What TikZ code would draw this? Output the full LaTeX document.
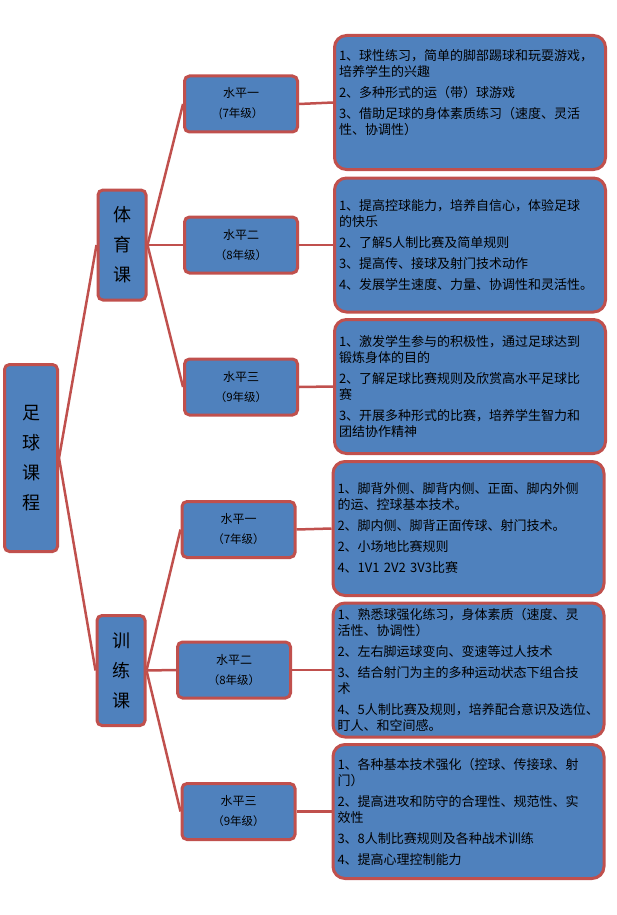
\documentclass[tikz,border=0pt]{standalone}
\usepackage{fontspec}
\setmainfont{Noto Sans CJK SC}
\usetikzlibrary{positioning,backgrounds}
\definecolor{boxfill}{HTML}{4F81BD}
\definecolor{boxline}{HTML}{C0504D}
\newcommand{\yrsize}{\fontsize{11.5}{20}\selectfont}

\begin{document}
\begin{tikzpicture}[x=1pt, y=-1pt,
  rt/.style={draw=boxline, line width=3pt, fill=boxfill, rounded corners=5pt, minimum width=53pt, minimum height=187pt, inner sep=0pt, align=center, font=\fontsize{18}{30}\selectfont},
  crs/.style={rt, minimum width=48pt, minimum height=110pt},
  lvl/.style={draw=boxline, line width=3pt, fill=boxfill, rounded corners=5pt, minimum width=113pt, minimum height=56pt, inner sep=0pt, align=center, font=\fontsize{12}{20}\selectfont},
  dtl/.style={draw=boxline, line width=3pt, fill=boxfill, rounded corners=12pt, text width=262pt, inner xsep=4.5pt, minimum height=134pt, align=left, font=\fontsize{13}{16}\selectfont},
  ln/.style={draw=boxline, line width=2.5pt}]
\useasboundingbox (0,0) rectangle (616,915);
% tree
\node[rt] (root) at (31,458) {足\\球\\课\\程};
\node[crs] (pe) at (122,245) {体\\育\\课};
\node[crs] (tr) at (121,670.5) {训\\练\\课};
% levels
\node[lvl] (pe1) at (241,104) {水平一\\{\yrsize(7年级）}};
\node[lvl] (pe2) at (241,245) {水平二\\{\yrsize（8年级）}};
\node[lvl] (pe3) at (241,387) {水平三\\{\yrsize（9年级）}};
\node[lvl] (tr1) at (238.5,529.5) {水平一\\{\yrsize（7年级）}};
\node[lvl] (tr2) at (234,670) {水平二\\{\yrsize（8年级）}};
\node[lvl] (tr3) at (238.5,811.5) {水平三\\{\yrsize（9年级）}};
% contents
\node[dtl] (d1) at (470,102.5) {1、球性练习，简单的脚部踢球和玩耍游戏，\\培养学生的兴趣\\[5pt]2、多种形式的运（带）球游戏\\[5pt]3、借助足球的身体素质练习（速度、灵活\\性、协调性）\\[5pt]\mbox{}};
\node[dtl] (d2) at (470,245) {1、提高控球能力，培养自信心，体验足球\\的快乐\\[5pt]2、了解5人制比赛及简单规则\\[5pt]3、提高传、接球及射门技术动作\\[5pt]4、发展学生速度、力量、协调性和灵活性。};
\node[dtl] (d3) at (470,386.5) {1、激发学生参与的积极性，通过足球达到\\锻炼身体的目的\\[5pt]2、了解足球比赛规则及欣赏高水平足球比\\赛\\[5pt]3、开展多种形式的比赛，培养学生智力和\\团结协作精神};
\node[dtl] (d4) at (468.5,528.5) {1、脚背外侧、脚背内侧、正面、脚内外侧\\的运、控球基本技术。\\[5pt]2、脚内侧、脚背正面传球、射门技术。\\[5pt]2、小场地比赛规则\\[5pt]4、1V1 2V2 3V3比赛};
\node[dtl] (d5) at (468.5,670) {1、熟悉球强化练习，身体素质（速度、灵\\活性、协调性）\\[5pt]2、左右脚运球变向、变速等过人技术\\[5pt]3、结合射门为主的多种运动状态下组合技\\术\\[5pt]4、5人制比赛及规则，培养配合意识及选位、\\盯人、和空间感。};
\node[dtl] (d6) at (468.5,811.5) {1、各种基本技术强化（控球、传接球、射\\门）\\[5pt]2、提高进攻和防守的合理性、规范性、实\\效性\\[5pt]3、8人制比赛规则及各种战术训练\\[5pt]4、提高心理控制能力};
% connectors
\begin{scope}[on background layer]
\foreach \c in {pe,tr} \draw[ln] (root.east) -- (\c.west);
\foreach \a/\b in {pe/pe1,pe/pe2,pe/pe3,tr/tr1,tr/tr2,tr/tr3} \draw[ln] (\a.east) -- (\b.west);
\foreach \a/\b in {pe1/d1,pe2/d2,pe3/d3,tr1/d4,tr2/d5,tr3/d6} \draw[ln] (\a.east) -- (\b.west);
\end{scope}
\end{tikzpicture}
\end{document}
